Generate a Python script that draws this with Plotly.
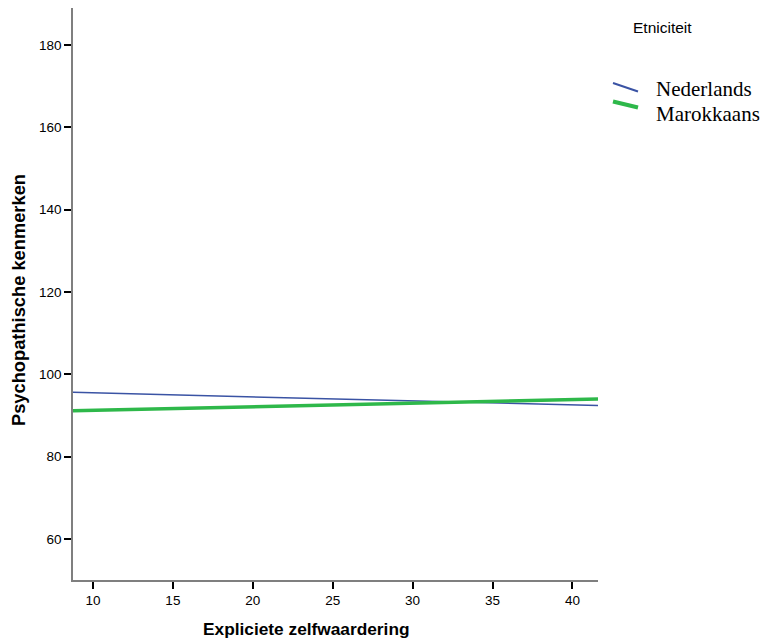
import plotly.graph_objects as go

# Data
x_vals = [8.75, 41.6]
nederlands = [95.6, 92.4]
marokkaans = [91.1, 94.0]
series_names = ["Nederlands", "Marokkaans"]
series_colors = ["#3a53a4", "#2eb84a"]
series_widths = [1.5, 3.5]
x_ticks = [10, 15, 20, 25, 30, 35, 40]
y_ticks = [60, 80, 100, 120, 140, 160, 180]

W, H = 764, 641
L, R, T, B = 73, 166, 8, 61
pw, ph = W - L - R, H - T - B

def px2paper(px, py):
    return (px - L) / pw, (H - B - py) / ph

fig = go.Figure()
for name, ys, c, w in zip(series_names, [nederlands, marokkaans], series_colors, series_widths):
    fig.add_trace(go.Scatter(x=x_vals, y=ys, mode="lines", name=name,
                             line=dict(color=c, width=w), showlegend=False))

sans = "Liberation Sans, Arial"
serif = "Liberation Serif, Times New Roman"

# axis titles
ax, ay = px2paper(306, 629)
fig.add_annotation(x=ax, y=ay, xref="paper", yref="paper", text="<b>Expliciete zelfwaardering</b>",
                   showarrow=False, xanchor="center", yanchor="middle",
                   font=dict(family=sans, size=17.3, color="black"))
ax, ay = px2paper(19, 300)
fig.add_annotation(x=ax, y=ay, xref="paper", yref="paper", text="<b>Psychopathische kenmerken</b>",
                   showarrow=False, xanchor="center", yanchor="middle", textangle=-90,
                   font=dict(family=sans, size=18.3, color="black"))

# legend title
lx, ly = px2paper(633, 27)
fig.add_annotation(x=lx, y=ly, xref="paper", yref="paper", text="Etniciteit",
                   showarrow=False, xanchor="left", yanchor="middle", xshift=-2,
                   font=dict(family=sans, size=15.5, color="black"))
# legend entries
glyphs = [(613, 83, 638, 91.5), (613, 101.5, 638, 107.5)]
for i, (name, c, w) in enumerate(zip(series_names, series_colors, series_widths)):
    gx0, gy0, gx1, gy1 = glyphs[i]
    x0p, y0p = px2paper(gx0, gy0)
    x1p, y1p = px2paper(gx1, gy1)
    fig.add_shape(type="line", xref="paper", yref="paper", x0=x0p, y0=y0p, x1=x1p, y1=y1p,
                  line=dict(color=c, width=w + 0.5))
    tx, ty = px2paper(656, 89 + i * 25)
    fig.add_annotation(x=tx, y=ty, xref="paper", yref="paper", text=name,
                       showarrow=False, xanchor="left", yanchor="middle", xshift=-2,
                       font=dict(family=serif, size=21, color="black"))

fig.update_layout(
    width=W, height=H,
    margin=dict(l=L, r=R, t=T, b=B),
    plot_bgcolor="white", paper_bgcolor="white",
    xaxis=dict(range=[8.75, 41.6], tickvals=x_ticks, showgrid=False, zeroline=False,
               showline=True, linecolor="#7f7f7f", linewidth=1.5,
               ticks="outside", ticklen=7, tickwidth=1.5, tickcolor="black",
               tickfont=dict(family=sans, size=13.5, color="black")),
    yaxis=dict(range=[50, 189], tickvals=y_ticks, showgrid=False, zeroline=False,
               showline=True, linecolor="#7f7f7f", linewidth=1.5,
               ticks="outside", ticklen=7, tickwidth=1.5, tickcolor="black",
               tickfont=dict(family=sans, size=13.5, color="black")),
)

fig.write_html("out.html", config={"displayModeBar": False},
               post_script="document.body.style.margin='0';document.body.style.overflow='hidden';")
